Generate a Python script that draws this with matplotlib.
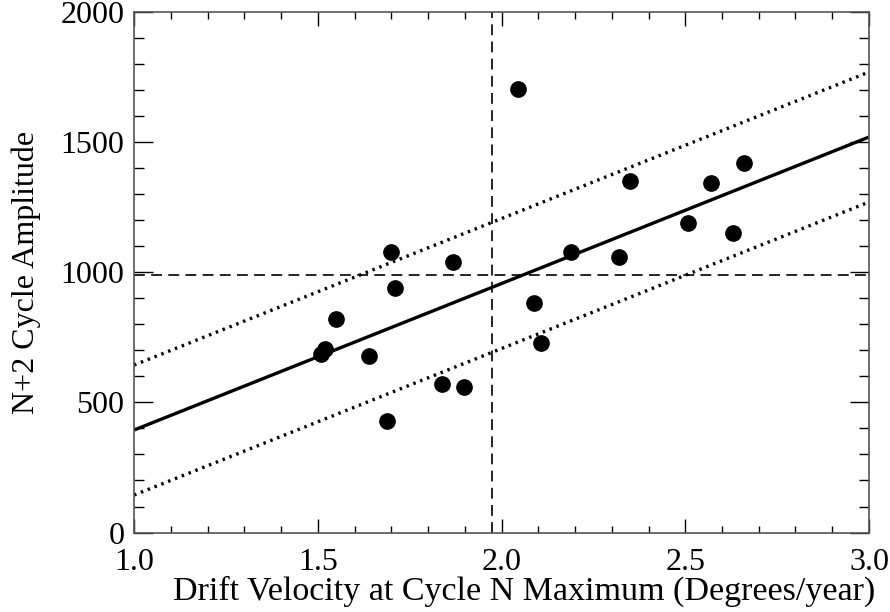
import matplotlib
matplotlib.use("Agg")
import matplotlib.pyplot as plt
import numpy as np
from matplotlib.ticker import MultipleLocator

# Data
drift_velocity = [1.509, 1.520, 1.550, 1.639, 1.688, 1.699, 1.710, 1.838, 1.868, 1.898,
                  2.045, 2.088, 2.107, 2.189, 2.320, 2.350, 2.507, 2.570, 2.630, 2.660]
amplitude = [686, 704, 821, 679, 429, 1079, 940, 571, 1040, 560,
             1706, 883, 729, 1079, 1060, 1352, 1190, 1344, 1152, 1421]

fit_intercept_at_1 = 394.0
fit_slope = 563.5
band_offset = 250.0
mean_velocity = 1.974
mean_amplitude = 989.0

x_range = [1.0, 3.0]
y_range = [0, 2000]
x_ticks = [1.0, 1.5, 2.0, 2.5, 3.0]
y_ticks = [0, 500, 1000, 1500, 2000]

plt.rcParams['font.family'] = ['Liberation Serif', 'DejaVu Serif']

fig = plt.figure(figsize=(8.9, 6.12), dpi=100)
ax = fig.add_axes([0.1506, 0.1299, 0.8258, 0.8497])

xf = np.array(x_range)
yf = fit_intercept_at_1 + fit_slope * (xf - 1.0)
ax.plot(xf, yf, color='black', lw=2.4, solid_capstyle='butt')
ax.plot(xf, yf + band_offset, color='black', lw=2.4, linestyle=(0, (0.75, 1.45)))
ax.plot(xf, yf - band_offset, color='black', lw=2.4, linestyle=(0, (0.75, 1.45)))

ax.axvline(mean_velocity, color='black', lw=1.2, linestyle=(0, (6.5, 3.8)))
ax.axhline(mean_amplitude, color='black', lw=1.2, linestyle=(0, (6.5, 3.8)))

ax.plot(drift_velocity, amplitude, 'o', color='black', markersize=11, zorder=5)

ax.set_xlim(*x_range)
ax.set_ylim(*y_range)
ax.set_xticks(x_ticks)
ax.set_xticklabels([f"{t:.1f}" for t in x_ticks])
ax.set_yticks(y_ticks)
ax.set_yticklabels([str(t) for t in y_ticks])
ax.xaxis.set_minor_locator(MultipleLocator(0.1))
ax.yaxis.set_minor_locator(MultipleLocator(100))

ax.tick_params(which='both', direction='in', top=True, right=True, color='black', width=1.0)
ax.tick_params(which='major', axis='y', length=14, pad=7, labelsize=23)
ax.tick_params(which='minor', axis='y', length=7)
ax.tick_params(which='major', axis='x', length=10, pad=11, labelsize=23)
ax.tick_params(which='minor', axis='x', length=5)

for s in ax.spines.values():
    s.set_color('#555555')
    s.set_linewidth(1.2)

ax.set_xlabel("Drift Velocity at Cycle N Maximum (Degrees/year)", fontsize=24.5)
ax.xaxis.label.set_va('baseline')
ax.xaxis.set_label_coords(0.531, -0.13)
ax.set_ylabel("N+2 Cycle Amplitude", fontsize=23)
ax.yaxis.label.set_va('center')
ax.yaxis.set_label_coords(-0.147, 0.5)

fig.savefig("out.png", dpi=100)
